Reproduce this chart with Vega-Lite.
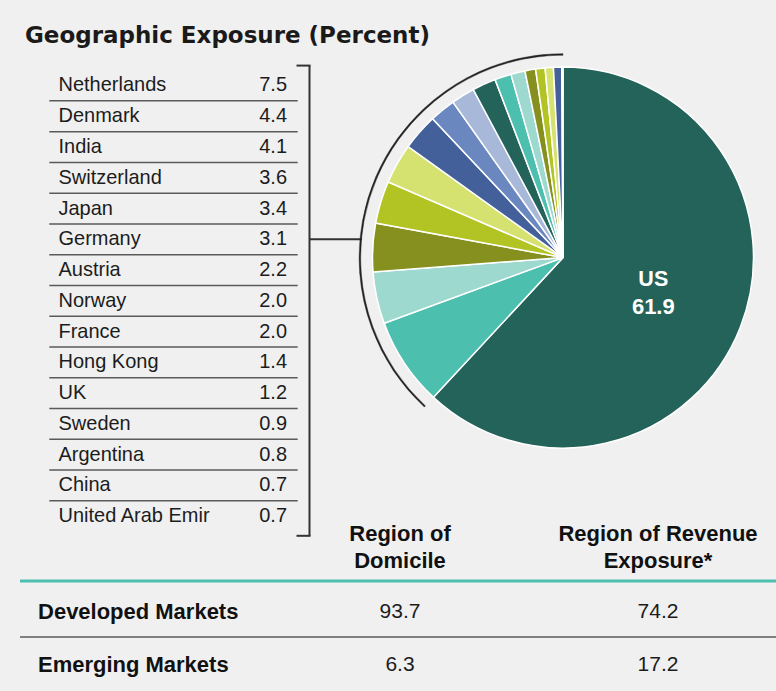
{
  "$schema": "https://vega.github.io/schema/vega-lite/v6.json",
  "background": "#f0f0f0",
  "padding": {"left": 0, "top": 25.1, "right": 0, "bottom": 0},
  "title": {
    "text": "Geographic Exposure (Percent)",
    "anchor": "start",
    "frame": "group",
    "font": "DejaVu Sans",
    "fontSize": 23,
    "fontWeight": "bold",
    "color": "#1a1a1a",
    "dx": 25,
    "offset": 4.5
  },
  "datasets": {
    "countries": [
      {"country": "US", "value": 61.9, "order": 0},
      {"country": "Netherlands", "value": 7.5, "order": 1},
      {"country": "Denmark", "value": 4.4, "order": 2},
      {"country": "India", "value": 4.1, "order": 3},
      {"country": "Switzerland", "value": 3.6, "order": 4},
      {"country": "Japan", "value": 3.4, "order": 5},
      {"country": "Germany", "value": 3.1, "order": 6},
      {"country": "Austria", "value": 2.2, "order": 7},
      {"country": "Norway", "value": 2.0, "order": 8},
      {"country": "France", "value": 2.0, "order": 9},
      {"country": "Hong Kong", "value": 1.4, "order": 10},
      {"country": "UK", "value": 1.2, "order": 11},
      {"country": "Sweden", "value": 0.9, "order": 12},
      {"country": "Argentina", "value": 0.8, "order": 13},
      {"country": "China", "value": 0.7, "order": 14},
      {"country": "United Arab Emir", "value": 0.7, "order": 15},
      {"country": "Other", "value": 0.1, "order": 16}
    ],
    "markets": [
      {"market": "Developed Markets", "domicile": 93.7, "revenue": 74.2},
      {"market": "Emerging Markets", "domicile": 6.3, "revenue": 17.2}
    ],
    "headers": [
      {"col": "domicile", "label": ["Region of", "Domicile"]},
      {"col": "revenue", "label": ["Region of Revenue", "Exposure*"]}
    ],
    "one": [{"id": 1}]
  },
  "width": 776,
  "height": 621.8,
  "resolve": {"scale": {"x": "independent", "y": "independent"}},
  "layer": [
    {
      "layer": [
        {
          "data": {"name": "countries"},
          "transform": [{"filter": "datum.order >= 1 && datum.order <= 15"}],
          "mark": {"type": "text", "align": "left", "baseline": "middle", "fontSize": 20, "color": "#1c1c1c"},
          "encoding": {
            "x": {"datum": "name", "type": "nominal", "bandPosition": 0,
                  "scale": {"type": "band", "domain": ["name", "value"], "range": [58.5, 287], "paddingInner": 0, "paddingOuter": 0}},
            "y": {"field": "country", "type": "nominal",
                  "scale": {"type": "band", "domain": ["Netherlands", "Denmark", "India", "Switzerland", "Japan", "Germany", "Austria", "Norway", "France", "Hong Kong", "UK", "Sweden", "Argentina", "China", "United Arab Emir"], "range": [0, 461.5], "paddingInner": 0, "paddingOuter": 0}},
            "text": {"field": "country", "type": "nominal"}
          }
        },
        {
          "data": {"name": "countries"},
          "transform": [{"filter": "datum.order >= 1 && datum.order <= 15"}],
          "mark": {"type": "text", "align": "right", "baseline": "middle", "fontSize": 20, "color": "#1c1c1c"},
          "encoding": {
            "x": {"datum": "value", "type": "nominal", "bandPosition": 1},
            "y": {"field": "country", "type": "nominal"},
            "text": {"field": "value", "type": "quantitative", "format": ".1f"}
          }
        },
        {
          "data": {"name": "countries"},
          "transform": [{"filter": "datum.order >= 2 && datum.order <= 15"}],
          "mark": {"type": "rule", "stroke": "#5a5a5a", "strokeWidth": 1.5, "xOffset": -9.2, "x2Offset": 10.7},
          "encoding": {
            "x": {"datum": "name", "type": "nominal", "bandPosition": 0},
            "x2": {"datum": "value", "bandPosition": 1},
            "y": {"field": "country", "type": "nominal", "bandPosition": 0}
          }
        },
        {
          "data": {"name": "one"},
          "mark": {"type": "rule", "stroke": "#333333", "strokeWidth": 2, "xOffset": 22.5, "yOffset": -19.9, "y2Offset": 19.6},
          "encoding": {
            "x": {"datum": "value", "type": "nominal", "bandPosition": 1},
            "y": {"datum": "Netherlands", "type": "nominal"},
            "y2": {"datum": "United Arab Emir"}
          }
        },
        {
          "data": {"name": "one"},
          "mark": {"type": "rule", "stroke": "#333333", "strokeWidth": 2, "xOffset": 9.5, "x2Offset": 23.5, "yOffset": -19.9},
          "encoding": {
            "x": {"datum": "value", "type": "nominal", "bandPosition": 1},
            "x2": {"datum": "value", "bandPosition": 1},
            "y": {"datum": "Netherlands", "type": "nominal"}
          }
        },
        {
          "data": {"name": "one"},
          "mark": {"type": "rule", "stroke": "#333333", "strokeWidth": 2, "xOffset": 9.5, "x2Offset": 23.5, "yOffset": 19.6},
          "encoding": {
            "x": {"datum": "value", "type": "nominal", "bandPosition": 1},
            "x2": {"datum": "value", "bandPosition": 1},
            "y": {"datum": "United Arab Emir", "type": "nominal"}
          }
        },
        {
          "data": {"name": "one"},
          "mark": {"type": "rule", "stroke": "#333333", "strokeWidth": 2, "xOffset": 22.5, "x2Offset": 75},
          "encoding": {
            "x": {"datum": "value", "type": "nominal", "bandPosition": 1},
            "x2": {"datum": "value", "bandPosition": 1},
            "y": {"datum": "Germany", "type": "nominal"}
          }
        }
      ]
    },
    {
      "layer": [
        {
          "data": {"name": "markets"},
          "mark": {"type": "text", "align": "left", "baseline": "middle", "fontSize": 22, "fontWeight": "bold", "color": "#111111"},
          "encoding": {
            "x": {"datum": "market", "type": "nominal", "bandPosition": 0,
                  "scale": {"type": "band", "domain": ["market", "domicile", "revenue"], "paddingInner": 0.1938, "paddingOuter": 0.1008, "align": 0.731}},
            "y": {"field": "market", "type": "nominal",
                  "scale": {"type": "band", "domain": ["header", "Developed Markets", "Emerging Markets"], "range": [461.5, 621.8], "paddingInner": 0, "paddingOuter": 0}},
            "text": {"field": "market", "type": "nominal"}
          }
        },
        {
          "data": {"name": "markets"},
          "mark": {"type": "text", "align": "center", "baseline": "middle", "fontSize": 21, "color": "#1c1c1c"},
          "encoding": {
            "x": {"datum": "domicile", "type": "nominal", "bandPosition": 0.5},
            "y": {"field": "market", "type": "nominal"},
            "text": {"field": "domicile", "type": "quantitative", "format": ".1f"}
          }
        },
        {
          "data": {"name": "markets"},
          "mark": {"type": "text", "align": "center", "baseline": "middle", "fontSize": 21, "color": "#1c1c1c"},
          "encoding": {
            "x": {"datum": "revenue", "type": "nominal", "bandPosition": 0.5},
            "y": {"field": "market", "type": "nominal"},
            "text": {"field": "revenue", "type": "quantitative", "format": ".1f"}
          }
        },
        {
          "data": {"name": "headers"},
          "mark": {"type": "text", "align": "center", "baseline": "middle", "fontSize": 22, "fontWeight": "bold", "color": "#111111", "lineHeight": 27, "dy": -24.4},
          "encoding": {
            "x": {"field": "col", "type": "nominal", "bandPosition": 0.5},
            "y": {"datum": "header", "type": "nominal"},
            "text": {"field": "label"}
          }
        },
        {
          "data": {"name": "one"},
          "mark": {"type": "rule", "stroke": "#4dbfaf", "strokeWidth": 3, "xOffset": -18, "yOffset": -4},
          "encoding": {
            "x": {"datum": "market", "type": "nominal", "bandPosition": 0},
            "x2": {"value": "width"},
            "y": {"datum": "Developed Markets", "type": "nominal", "bandPosition": 0}
          }
        },
        {
          "data": {"name": "one"},
          "mark": {"type": "rule", "stroke": "#5a5a5a", "strokeWidth": 1.5, "xOffset": -18, "yOffset": -1.5},
          "encoding": {
            "x": {"datum": "market", "type": "nominal", "bandPosition": 0},
            "x2": {"value": "width"},
            "y": {"datum": "Emerging Markets", "type": "nominal", "bandPosition": 0}
          }
        }
      ]
    },
    {
      "data": {"name": "countries"},
      "layer": [
        {
          "mark": {"type": "arc", "outerRadius": 190.5, "stroke": "#ffffff", "strokeWidth": 1.5},
          "encoding": {
            "x": {"datum": "pie", "type": "nominal", "bandPosition": 0.5,
                  "scale": {"type": "band", "domain": ["pie"], "range": [350, 776], "paddingInner": 0, "paddingOuter": 0}},
            "y": {"datum": "pie", "type": "nominal", "bandPosition": 0.5,
                  "scale": {"type": "band", "domain": ["pie"], "range": [0, 375], "paddingInner": 0, "paddingOuter": 0}},
            "theta": {"field": "value", "type": "quantitative", "stack": true, "scale": {"domain": [0, 100]}},
            "order": {"field": "order", "type": "quantitative"},
            "color": {
              "field": "country", "type": "nominal",
              "scale": {
                "domain": ["US", "Netherlands", "Denmark", "India", "Switzerland", "Japan", "Germany", "Austria", "Norway", "France", "Hong Kong", "UK", "Sweden", "Argentina", "China", "United Arab Emir", "Other"],
                "range": ["#24635a", "#4dbfaf", "#9ed9d0", "#85901f", "#b2c424", "#d6e26f", "#43609a", "#6a88bf", "#a8b8d8", "#24635a", "#4dbfaf", "#9ed9d0", "#85901f", "#b2c424", "#d6e26f", "#43609a", "#6a88bf"]
              }
            }
          }
        },
        {
          "mark": {"type": "arc", "innerRadius": 202.3, "outerRadius": 203.9, "color": "#222222", "stroke": "#222222", "strokeWidth": 0.4},
          "encoding": {
            "x": {"datum": "pie", "type": "nominal", "bandPosition": 0.5},
            "y": {"datum": "pie", "type": "nominal", "bandPosition": 0.5},
            "theta": {"field": "value", "type": "quantitative", "stack": true},
            "order": {"field": "order", "type": "quantitative"},
            "opacity": {"condition": {"test": "datum.country === 'US'", "value": 0}, "value": 1}
          }
        },
        {
          "transform": [{"filter": "datum.country === 'US'"}],
          "mark": {"type": "text", "radius": 97, "dy": -13.5, "fontSize": 21.5, "fontWeight": "bold", "color": "#ffffff", "baseline": "middle", "align": "center"},
          "encoding": {
            "x": {"datum": "pie", "type": "nominal", "bandPosition": 0.5},
            "y": {"datum": "pie", "type": "nominal", "bandPosition": 0.5},
            "theta": {"field": "value", "type": "quantitative", "stack": true},
            "text": {"field": "country", "type": "nominal"}
          }
        },
        {
          "transform": [{"filter": "datum.country === 'US'"}],
          "mark": {"type": "text", "radius": 97, "dy": 13.5, "fontSize": 22, "fontWeight": "bold", "color": "#ffffff", "baseline": "middle", "align": "center"},
          "encoding": {
            "x": {"datum": "pie", "type": "nominal", "bandPosition": 0.5},
            "y": {"datum": "pie", "type": "nominal", "bandPosition": 0.5},
            "theta": {"field": "value", "type": "quantitative", "stack": true},
            "text": {"field": "value", "type": "quantitative", "format": ".1f"}
          }
        }
      ]
    }
  ],
  "config": {
    "view": {"stroke": null},
    "font": "Liberation Sans",
    "axis": {"disable": true},
    "legend": {"disable": true}
  }
}
